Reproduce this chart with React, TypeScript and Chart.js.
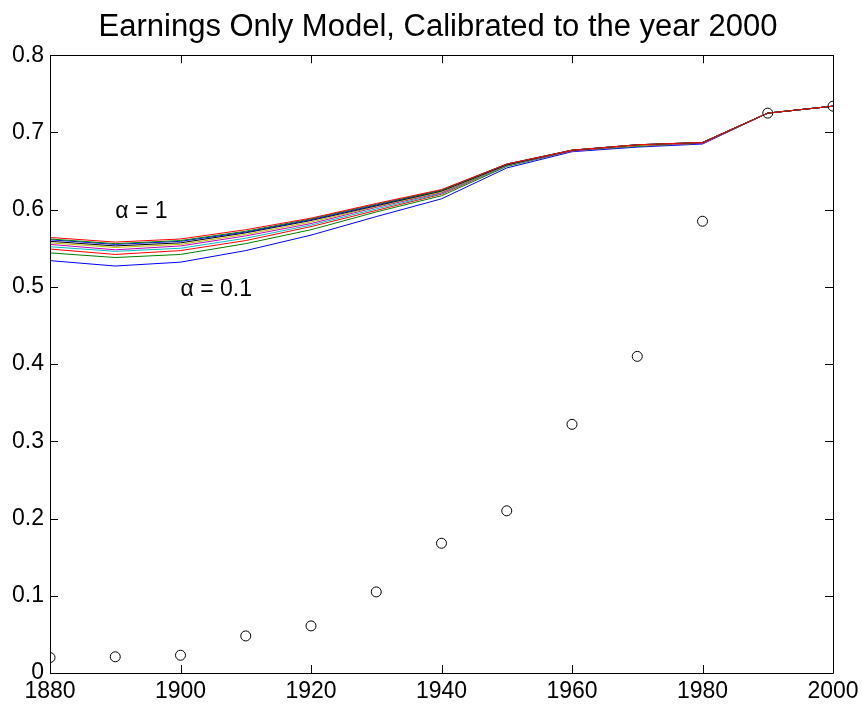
import React, { useEffect, useRef } from "react";
import { Chart, registerables } from "chart.js";

Chart.register(...registerables);

const years = [1880, 1890, 1900, 1910, 1920, 1930, 1940, 1950, 1960, 1970, 1980, 1990, 2000];

const observed = [0.020, 0.021, 0.023, 0.048, 0.061, 0.105, 0.168, 0.210, 0.322, 0.410, 0.585, 0.725, 0.734];

const alpha01 = [0.534, 0.527, 0.532, 0.547, 0.567, 0.591, 0.614, 0.654, 0.675, 0.681, 0.685, 0.725, 0.734];
const alpha02 = [0.544, 0.538, 0.542, 0.556, 0.574, 0.597, 0.618, 0.656, 0.676, 0.682, 0.686, 0.725, 0.734];
const alpha03 = [0.549, 0.542, 0.547, 0.560, 0.578, 0.599, 0.620, 0.657, 0.676, 0.683, 0.686, 0.725, 0.734];
const alpha04 = [0.552, 0.546, 0.550, 0.563, 0.580, 0.601, 0.621, 0.657, 0.676, 0.683, 0.686, 0.725, 0.734];
const alpha05 = [0.555, 0.548, 0.553, 0.566, 0.582, 0.603, 0.622, 0.658, 0.676, 0.683, 0.686, 0.725, 0.734];
const alpha06 = [0.557, 0.551, 0.555, 0.568, 0.584, 0.604, 0.623, 0.658, 0.677, 0.683, 0.687, 0.725, 0.734];
const alpha07 = [0.559, 0.553, 0.557, 0.570, 0.586, 0.605, 0.624, 0.658, 0.677, 0.684, 0.687, 0.725, 0.734];
const alpha08 = [0.561, 0.555, 0.559, 0.571, 0.587, 0.606, 0.625, 0.659, 0.677, 0.684, 0.687, 0.725, 0.734];
const alpha09 = [0.562, 0.556, 0.560, 0.572, 0.588, 0.607, 0.625, 0.659, 0.677, 0.684, 0.687, 0.725, 0.734];
const alpha10 = [0.564, 0.558, 0.562, 0.574, 0.589, 0.608, 0.626, 0.659, 0.677, 0.684, 0.687, 0.725, 0.734];

const modelSeries = [alpha01, alpha02, alpha03, alpha04, alpha05, alpha06, alpha07, alpha08, alpha09, alpha10];
const seriesNames = ["α = 0.1", "α = 0.2", "α = 0.3", "α = 0.4", "α = 0.5", "α = 0.6", "α = 0.7", "α = 0.8", "α = 0.9", "α = 1"];
const seriesColors = ["#0000FF", "#008000", "#FF0000", "#00BFBF", "#BF00BF", "#BFBF00", "#000000", "#0000FF", "#008000", "#FF0000"];

const xTicks = [1880, 1900, 1920, 1940, 1960, 1980, 2000];
const xTickLabels = ["1880", "1900", "1920", "1940", "1960", "1980", "2000"];
const yTicks = [0, 0.1, 0.2, 0.3, 0.4, 0.5, 0.6, 0.7, 0.8];
const yTickLabels = ["0", "0.1", "0.2", "0.3", "0.4", "0.5", "0.6", "0.7", "0.8"];

const annotationTexts = ["α = 1", "α = 0.1"];
const annotationX = [1890, 1900];
const annotationY = [0.597, 0.497];

const titleText = "Earnings Only Model, Calibrated to the year 2000";

const FONT = "'Liberation Sans', Arial, Helvetica, sans-serif";
const TICK_LEN = 8;

const framePlugin = {
  id: "matlabFrame",
  afterDatasetsDraw(chart: any) {
    const ctx = chart.ctx;
    const xs = chart.scales.x;
    const ys = chart.scales.y;
    ctx.save();
    ctx.fillStyle = "#000";
    ctx.font = `23px ${FONT}`;
    ctx.textAlign = "left";
    ctx.textBaseline = "middle";
    annotationTexts.forEach((t, i) => {
      ctx.fillText(t, xs.getPixelForValue(annotationX[i]), ys.getPixelForValue(annotationY[i]));
    });
    ctx.restore();
  },
  afterDraw(chart: any) {
    const ctx = chart.ctx;
    const { left, right, top, bottom } = chart.chartArea;
    const xs = chart.scales.x;
    const ys = chart.scales.y;
    ctx.save();
    ctx.strokeStyle = "#000";
    ctx.lineWidth = 1;
    ctx.beginPath();
    ctx.rect(Math.round(left) + 0.5, Math.round(top) + 0.5, Math.round(right - left), Math.round(bottom - top));
    ctx.stroke();
    ctx.beginPath();
    xTicks.forEach((v) => {
      const px = Math.round(xs.getPixelForValue(v)) + 0.5;
      ctx.moveTo(px, bottom);
      ctx.lineTo(px, bottom - TICK_LEN);
      ctx.moveTo(px, top);
      ctx.lineTo(px, top + TICK_LEN);
    });
    yTicks.forEach((v) => {
      const py = Math.round(ys.getPixelForValue(v)) + 0.5;
      ctx.moveTo(left, py);
      ctx.lineTo(left + TICK_LEN, py);
      ctx.moveTo(right, py);
      ctx.lineTo(right - TICK_LEN, py);
    });
    ctx.stroke();
    ctx.restore();
  },
};

export default function App() {
  const canvasRef = useRef<HTMLCanvasElement | null>(null);

  useEffect(() => {
    if (!canvasRef.current) return;
    const datasets: any[] = modelSeries.map((vals, i) => ({
      type: "line",
      label: seriesNames[i],
      data: years.map((y, j) => ({ x: y, y: vals[j] })),
      borderColor: seriesColors[i],
      backgroundColor: seriesColors[i],
      borderWidth: 1,
      pointRadius: 0,
      tension: 0,
      fill: false,
      order: modelSeries.length - i,
    }));
    datasets.push({
      type: "line",
      label: "Data",
      data: years.map((y, j) => ({ x: y, y: observed[j] })),
      showLine: false,
      pointStyle: "circle",
      pointRadius: 5,
      pointBorderWidth: 1,
      borderColor: "#000",
      backgroundColor: "rgba(0,0,0,0)",
      pointBackgroundColor: "rgba(0,0,0,0)",
      pointBorderColor: "#000",
      order: 0,
    });

    const chart = new Chart(canvasRef.current, {
      type: "line",
      data: { datasets },
      plugins: [framePlugin],
      options: {
        animation: false,
        responsive: false,
        devicePixelRatio: 1,
        layout: { padding: { left: 10, right: 0, top: 0, bottom: 0 } },
        plugins: {
          legend: { display: false },
          tooltip: { enabled: false },
          title: {
            display: true,
            text: titleText,
            color: "#000",
            font: { family: FONT, size: 31, weight: "normal" },
            padding: { top: 9, bottom: 9 },
          },
        },
        scales: {
          x: {
            type: "linear",
            min: 1880,
            max: 2000,
            grid: { display: false, drawTicks: false },
            border: { display: false },
            afterBuildTicks: (scale: any) => {
              scale.ticks = xTicks.map((v) => ({ value: v }));
            },
            afterFit: (scale: any) => {
              scale.height = 35;
            },
            ticks: {
              color: "#000",
              font: { family: FONT, size: 23 },
              padding: 5,
              maxRotation: 0,
              autoSkip: false,
              callback: (v: any) => {
                const i = xTicks.indexOf(Number(v));
                return i >= 0 ? xTickLabels[i] : "";
              },
            },
          },
          y: {
            type: "linear",
            position: "left",
            min: 0,
            max: 0.8,
            grid: { display: false, drawTicks: false },
            border: { display: false },
            afterBuildTicks: (scale: any) => {
              scale.ticks = yTicks.map((v) => ({ value: v }));
            },
            afterFit: (scale: any) => {
              scale.width = 40;
            },
            ticks: {
              color: "#000",
              font: { family: FONT, size: 23 },
              padding: 6,
              autoSkip: false,
              callback: (v: any) => {
                const i = yTicks.findIndex((t) => Math.abs(t - Number(v)) < 1e-9);
                return i >= 0 ? yTickLabels[i] : "";
              },
            },
          },
          yRight: {
            type: "linear",
            position: "right",
            min: 0,
            max: 0.8,
            grid: { display: false, drawTicks: false },
            border: { display: false },
            ticks: { display: false },
            afterFit: (scale: any) => {
              scale.width = 33;
            },
          },
        },
      },
    } as any);

    return () => chart.destroy();
  }, []);

  return (
    <div style={{ position: "fixed", left: 0, top: 0, width: 866, height: 708, background: "#fff" }}>
      <canvas ref={canvasRef} width={866} height={708} style={{ width: 866, height: 708, display: "block" }} />
    </div>
  );
}
